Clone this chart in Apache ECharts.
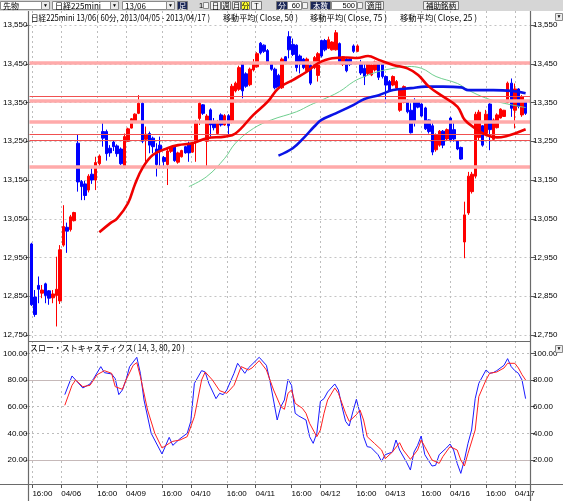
<!DOCTYPE html>
<html><head><meta charset="utf-8">
<script src="https://cdn.jsdelivr.net/npm/echarts/dist/echarts.min.js"></script>
<style>html,body{margin:0;padding:0;background:#fff}#c{width:563px;height:501px}</style>
</head><body><div id="c"></div>
<script>
// ---- data ----
const barCount = 140;
const categories = Array.from({length: barCount}, (_, i) => 'b' + i);
const tickIdx = [1, 9, 19, 27, 37, 45, 55, 63, 73, 81, 91, 99, 109, 117, 127, 135];
const tickText = ['16:00','04/06','16:00','04/09','16:00','04/10','16:00','04/11','16:00','04/12','16:00','04/13','16:00','04/16','16:00','04/17'];
// [open, close, low, high]
const candles = [
[12985,12828,12825,12988],[12848,12803,12797,12866],[12878,12868,12832,12901],[12858,12866,12845,12879],
[12882,12852,12832,12885],[12864,12845,12828,12866],[12846,12856,12832,12866],[12852,12868,12772,12952],
[12838,12970,12830,12982],[12982,13030,12978,13085],[13028,13018,12962,13040],[13022,13055,13017,13060],
[13045,13066,13043,13068],[13245,13145,13120,13268],[13146,13133,13098,13150],[13140,13110,13098,13148],
[13124,13160,13118,13165],[13165,13150,13140,13180],[13150,13195,13124,13210],[13192,13212,13185,13216],
[13275,13258,13236,13300],[13275,13218,13200,13280],[13232,13220,13210,13240],[13248,13236,13225,13253],
[13238,13218,13210,13242],[13230,13192,13189,13234],[13182,13262,13180,13270],[13250,13282,13249,13285],
[13284,13308,13283,13310],[13302,13320,13300,13322],[13322,13348,13320,13369],[13348,13250,13245,13352],
[13255,13268,13197,13288],[13270,13240,13219,13275],[13258,13236,13219,13262],[13230,13190,13159,13245],
[13240,13225,13180,13262],[13208,13198,13180,13212],[13190,13225,13137,13232],[13224,13234,13220,13237],
[13236,13200,13197,13238],[13196,13220,13192,13223],[13210,13226,13208,13228],[13236,13220,13218,13238],
[13244,13220,13197,13249],[13222,13244,13220,13249],[13250,13300,13197,13305],[13309,13348,13292,13354],
[13344,13322,13318,13346],[13250,13315,13184,13320],[13331,13292,13262,13335],[13300,13285,13278,13310],
[13270,13300,13266,13305],[13318,13292,13288,13322],[13292,13316,13290,13320],[13316,13290,13266,13320],
[13300,13392,13296,13398],[13380,13400,13376,13404],[13384,13440,13380,13445],[13452,13380,13361,13456],
[13424,13392,13388,13428],[13396,13436,13392,13440],[13434,13450,13430,13462],[13442,13476,13440,13480],
[13503,13478,13474,13506],[13498,13482,13478,13500],[13484,13452,13448,13488],[13450,13436,13432,13455],
[13436,13388,13384,13440],[13420,13390,13386,13424],[13388,13462,13385,13466],[13468,13456,13452,13470],
[13520,13486,13464,13534],[13500,13474,13470,13515],[13498,13440,13430,13500],[13470,13450,13425,13474],
[13462,13440,13436,13465],[13432,13462,13430,13466],[13446,13400,13395,13450],[13440,13466,13436,13470],
[13420,13476,13404,13480],[13510,13470,13466,13512],[13510,13486,13482,13514],[13490,13512,13488,13520],
[13486,13506,13484,13508],[13486,13530,13484,13537],[13502,13456,13452,13505],[13448,13468,13444,13470],
[13462,13432,13428,13466],[13462,13448,13444,13466],[13496,13482,13478,13500],[13482,13496,13480,13500],
[13452,13426,13421,13460],[13438,13417,13395,13451],[13425,13451,13421,13455],[13421,13447,13418,13450],
[13434,13455,13430,13458],[13451,13415,13408,13455],[13455,13417,13412,13458],[13417,13395,13348,13420],
[13404,13382,13378,13408],[13395,13417,13392,13420],[13387,13404,13384,13408],[13330,13384,13326,13387],
[13350,13391,13348,13394],[13356,13326,13322,13358],[13330,13272,13270,13348],[13352,13300,13288,13361],
[13354,13338,13335,13356],[13346,13315,13313,13348],[13336,13282,13279,13339],[13305,13275,13270,13306],
[13290,13222,13214,13300],[13228,13266,13223,13270],[13240,13276,13236,13279],[13276,13240,13232,13279],
[13256,13280,13253,13283],[13310,13252,13249,13313],[13280,13256,13249,13300],[13250,13230,13227,13253],
[13234,13204,13202,13236],[12990,13060,12948,13094],[13065,13160,13060,13171],[13120,13165,13115,13171],
[13160,13320,13154,13326],[13260,13325,13253,13331],[13290,13240,13236,13292],[13270,13320,13266,13331],
[13346,13280,13227,13348],[13255,13305,13253,13309],[13285,13318,13283,13322],[13310,13333,13309,13335],
[13314,13330,13313,13331],[13350,13400,13348,13404],[13400,13335,13313,13412],[13330,13385,13283,13399],
[13385,13340,13335,13387],[13318,13365,13313,13369],[13354,13322,13318,13356]
];
// moving averages read at bar indices: [barIndex, value]
const ma25 = [[19,13015],[22,13038],[24,13051],[27,13090],[29,13140],[31,13180],[34,13215],[38,13232],[41,13240],[45,13245],[49,13258],[54,13262],[57,13270],[62,13318],[66,13352],[69,13387],[73,13408],[77,13430],[80,13451],[84,13464],[88,13466],[91,13465],[94,13470],[97,13460],[101,13447],[105,13438],[108,13421],[111,13391],[115,13365],[119,13339],[121,13305],[124,13283],[127,13266],[130,13260],[133,13264],[135,13270],[138,13281]];
const ma50 = [[44,13133],[49,13159],[54,13206],[57,13245],[62,13283],[67,13305],[74,13326],[78,13344],[81,13356],[86,13378],[90,13404],[93,13417],[97,13430],[101,13438],[105,13443],[109,13438],[113,13417],[119,13399],[122,13382],[127,13361],[132,13348],[138,13337]];
const ma75 = [[69,13213],[73,13232],[76,13258],[79,13288],[81,13305],[85,13322],[90,13344],[93,13359],[97,13369],[101,13382],[106,13387],[110,13391],[115,13391],[120,13389],[122,13382],[129,13382],[134,13380],[138,13374]];
// stochastics [barIndex, value]
const stochK = [[10,69],[12,83],[13,80],[15,74],[17,77],[18,81],[20,90],[21,85.5],[23,84.5],[24,81],[25,69],[26,72.5],[27,80],[28,90],[30,97],[31,85],[32,65],[34,40],[37,24.5],[39,37],[40,31],[42,36],[44,40],[45,49],[46,77.5],[48,87],[49,86],[50,77.5],[52,66],[53,70],[54,69],[55,72.5],[57,85],[58,92.5],[60,85],[61,89],[64,97],[66,91],[67,79],[69,50],[70,60],[71,65],[72,80.5],[73,76],[74,55],[75,53],[77,50],[78,37.5],[79,32.5],[80,40],[81,64],[82,66],[83,71],[85,77],[86,72.5],[87,60],[88,49],[89,45.5],[90,56],[91,65.5],[92,55],[93,37.5],[94,30],[95,29.5],[97,24],[98,19],[99,24],[101,26],[102,35],[103,27.5],[105,18],[106,12.5],[107,26],[108,31],[109,38],[110,24],[112,15.5],[113,16],[114,24],[116,29],[117,32],[118,27.5],[119,17.5],[120,10],[121,20],[122,32.5],[123,42.5],[124,66],[125,77.5],[127,87.5],[128,85],[129,85.5],[130,87],[132,91],[133,96],[134,90],[135,87],[136,85],[137,80],[138,66]];
const stochD = [[10,61],[12,76],[13,80],[15,75],[17,76],[19,84],[21,87],[23,85],[24,75],[26,73],[27,80],[29,91],[30,93],[31,82.5],[33,57.5],[35,40],[37,29],[39,32.5],[40,34],[42,35],[44,37.5],[46,52.5],[48,80],[49,86],[51,80],[53,72],[55,70],[57,76],[59,90],[61,87.5],[62,89],[64,94.5],[66,87.5],[68,72.5],[70,60],[71,58],[72,70],[73,72.5],[74,62.5],[76,58.75],[77,55],[78,47.5],[80,37.5],[81,42.5],[82,55],[83,65],[85,74],[86,70],[88,55],[89,49],[91,54],[92,57.5],[93,50],[94,37.5],[96,32.5],[98,27.5],[99,21],[101,26],[103,33],[104,27.5],[106,20.5],[108,27.5],[109,35],[110,30],[112,20],[114,17.5],[115,22.5],[117,30],[119,27.5],[120,20],[121,15.5],[122,25],[124,42.5],[125,67.5],[127,80],[128,85],[130,86],[132,89],[133,92.5],[135,92.5],[136,89],[137,84],[138,80]];
const thickLevels = [13453, 13355, 13300, 13183];
const thinLevels = [13367, 13268, 13252];
const stochDashed = [100, 60, 40];
const stochSolid = [80, 20];
const titleTexts = ['日経225mini 13/06( 60分, 2013/04/05 - 2013/04/17 )', '移動平均( Close, 50 )', '移動平均( Close, 75 )', '移動平均( Close, 25 )'];
const stochTitle = 'スロー・ストキャスティクス( 14, 3, 80, 20 )';

// ---- layout ----
const CJK = '"Noto Sans CJK JP", sans-serif';
const NUM = '"Liberation Sans", "DejaVu Sans", sans-serif';
const tickSet = new Set(tickIdx);
const fmtComma = v => String(v).replace(/\B(?=(\d{3})+(?!\d))/g, ',');
const measureCtx = document.createElement('canvas').getContext('2d');
function textWidth(t, size, family) { measureCtx.font = size + 'px ' + family; return measureCtx.measureText(t).width; }

function rect(x, y, w, h, fill, stroke) {
  return {type: 'rect', shape: {x: x, y: y, width: w, height: h}, style: {fill: fill, stroke: stroke || null, lineWidth: 1}, silent: true, z: 10};
}
function txt(x, y, t, size, color, font, align) {
  return {type: 'text', x: x, y: y, style: {text: t, fontSize: size, fill: color || '#000', fontFamily: font || CJK, align: align || 'left', verticalAlign: 'middle'}, silent: true, z: 11};
}
function fitTxt(x, y, t, size, targetW) {
  const w = textWidth(t, size, CJK);
  const el = txt(x, y, t, size, '#000', CJK, 'left');
  el.scaleX = targetW / w;
  return el;
}
function hline(x1, x2, y, color, w) {
  return {type: 'line', shape: {x1: x1, y1: y, x2: x2, y2: y}, style: {stroke: color, lineWidth: w || 1}, silent: true, z: 10};
}
function vline(x, y1, y2, color, w) {
  return {type: 'line', shape: {x1: x, y1: y1, x2: x, y2: y2}, style: {stroke: color, lineWidth: w || 1}, silent: true, z: 10};
}

const graphics = [];
// toolbar
graphics.push(rect(0, 0, 563, 11, '#d6d6d6', null));
function combo(x, w, label) {
  graphics.push(rect(x + 0.5, 1.5, w - 9, 8, '#fff', '#8a8a8a'));
  graphics.push(rect(x + w - 8.5, 1.5, 8, 8, '#ececec', '#8a8a8a'));
  graphics.push(txt(x + w - 4.5, 6, '▼', 5, '#000', NUM, 'center'));
  graphics.push(txt(x + 3, 6, label, 8, '#000'));
}
combo(0, 50, '先物');
combo(52, 67, '日経225mini');
combo(122, 53, '13/06');
function btn(x, w, label, fill, color) {
  graphics.push(rect(x + 0.5, 1.5, w, 8, fill, '#7a7a7a'));
  graphics.push(txt(x + 0.5 + w / 2, 6, label, 7.5, color || '#000', CJK, 'center'));
}
btn(177, 10, '足', '#1c2858', '#fff');
graphics.push(txt(199, 6, '1', 7.5, '#000', NUM));
graphics.push(rect(203.5, 2.5, 5, 6, '#f4f4f4', '#888'));
btn(210, 10, '日', '#f2f2f2');
btn(221, 9, '週', '#f2f2f2');
btn(232, 8, '月', '#f2f2f2');
btn(241, 8, '分', '#ffff30');
btn(251, 10, 'T', '#f2f2f2');
btn(276, 11, '分', '#1c2858', '#fff');
graphics.push(rect(287.5, 1.5, 14, 8, '#fff', '#8a8a8a'));
graphics.push(txt(300, 6, '60', 7.5, '#000', NUM, 'right'));
graphics.push(rect(302.5, 2.5, 5, 6, '#f4f4f4', '#888'));
btn(310, 20, '本数', '#1c2858', '#fff');
graphics.push(rect(331.5, 1.5, 25, 8, '#fff', '#8a8a8a'));
graphics.push(txt(355, 6, '500', 7.5, '#000', NUM, 'right'));
graphics.push(rect(357.5, 2.5, 5, 6, '#f4f4f4', '#888'));
btn(365, 18, '適用', '#f2f2f2');
btn(423, 35, '補助銘柄', '#f2f2f2');
// titles (scaled horizontally to the narrow widths of the original)
graphics.push(fitTxt(31, 18, titleTexts[0], 8.5, 179));
graphics.push(fitTxt(223, 18, titleTexts[1], 8.5, 75));
graphics.push(fitTxt(310, 18, titleTexts[2], 8.5, 77));
graphics.push(fitTxt(400, 18, titleTexts[3], 8.5, 77));
graphics.push(fitTxt(30, 348, stochTitle, 8.5, 155));
// small scroll boxes at right
graphics.push(rect(555.5, 13.5, 7, 7, '#ececec', '#8a8a8a'));
graphics.push(txt(559, 17, '▼', 5, '#000', NUM, 'center'));
graphics.push(rect(555.5, 345.5, 7, 7, '#ececec', '#8a8a8a'));
graphics.push(txt(559, 349, '▼', 5, '#000', NUM, 'center'));
// frame
graphics.push(vline(28.5, 11, 501, '#6a6a6a', 1.2));
graphics.push(vline(530.5, 11, 501, '#6a6a6a', 1.2));
graphics.push(hline(0, 563, 484.5, '#6a6a6a', 1.2));
graphics.push(hline(28, 531, 341.5, '#6a6a6a', 1));

const axisLabelStyle = {fontSize: 8, color: '#000', fontFamily: NUM};

const option = {
  animation: false,
  backgroundColor: '#fff',
  grid: [
    {left: 27, width: 504, top: 25, height: 310},
    {left: 27, width: 504, top: 353.3, height: 133.4},
    {left: 27, width: 504, top: 353.3, height: 106.7},
    {left: 28.8, width: 500.4, top: 11, height: 473}
  ],
  xAxis: [
    {type: 'category', gridIndex: 0, data: categories, boundaryGap: true, show: false},
    {type: 'category', gridIndex: 1, data: categories, boundaryGap: true, show: false},
    {type: 'category', gridIndex: 2, data: categories, boundaryGap: true, show: false},
    {type: 'category', gridIndex: 3, data: categories, boundaryGap: false,
      axisLine: {show: false},
      axisTick: {show: true, length: 4, interval: (i) => tickSet.has(i), lineStyle: {color: '#555'}},
      axisLabel: {show: true, interval: (i) => tickSet.has(i), margin: 6, align: 'left',
        formatter: (v, i) => { const k = tickIdx.indexOf(i); return k >= 0 ? tickText[k] : ''; },
        ...axisLabelStyle},
      splitLine: {show: true, interval: (i) => tickSet.has(i), lineStyle: {color: '#bdbdbd', type: [2, 3], width: 1}}
    }
  ],
  yAxis: [
    {type: 'value', gridIndex: 0, min: 12750, max: 13550, interval: 100, position: 'left',
      axisLine: {show: false}, axisTick: {show: true, length: 4, lineStyle: {color: '#555'}},
      axisLabel: {margin: 2, formatter: fmtComma, ...axisLabelStyle},
      splitLine: {show: true, lineStyle: {color: '#c4c4c4', type: [2, 3]}}},
    {type: 'value', gridIndex: 0, min: 12750, max: 13550, interval: 100, position: 'right',
      axisLine: {show: false}, axisTick: {show: true, length: 4, lineStyle: {color: '#555'}},
      axisLabel: {margin: 2, formatter: fmtComma, ...axisLabelStyle},
      splitLine: {show: false}},
    {type: 'value', gridIndex: 1, min: 0, max: 100, show: false, splitLine: {show: false}},
    {type: 'value', gridIndex: 2, min: 20, max: 100, interval: 20, position: 'left',
      axisLine: {show: false}, axisTick: {show: true, length: 4, lineStyle: {color: '#555'}},
      axisLabel: {margin: 2, formatter: v => v.toFixed(2), ...axisLabelStyle}, splitLine: {show: false}},
    {type: 'value', gridIndex: 2, min: 20, max: 100, interval: 20, position: 'right',
      axisLine: {show: false}, axisTick: {show: true, length: 4, lineStyle: {color: '#555'}},
      axisLabel: {margin: 2, formatter: v => v.toFixed(2), ...axisLabelStyle}, splitLine: {show: false}},
    {type: 'value', gridIndex: 3, show: false, splitLine: {show: false}}
  ],
  series: [
    {type: 'line', xAxisIndex: 0, yAxisIndex: 0, data: [], z: 1, silent: true,
      markLine: {silent: true, symbol: 'none', label: {show: false}, animation: false,
        data: thickLevels.map(v => ({yAxis: v, lineStyle: {color: '#ffaaaa', width: 3.5, type: 'solid'}}))
          .concat(thinLevels.map(v => ({yAxis: v, lineStyle: {color: '#f05050', width: 1, type: 'solid'}})))}},
    {type: 'candlestick', xAxisIndex: 0, yAxisIndex: 0, data: candles, z: 3, barWidth: 3,
      itemStyle: {color: '#ff0000', color0: '#0000ff', borderColor: '#ff0000', borderColor0: '#0000ff', borderWidth: 1}},
    {type: 'line', xAxisIndex: 0, yAxisIndex: 0, data: ma50, z: 4, symbol: 'none', smooth: 0.4,
      lineStyle: {color: '#6fcf8f', width: 1}},
    {type: 'line', xAxisIndex: 0, yAxisIndex: 0, data: ma75, z: 5, symbol: 'none', smooth: 0.4,
      lineStyle: {color: '#0a14e6', width: 2.6}},
    {type: 'line', xAxisIndex: 0, yAxisIndex: 0, data: ma25, z: 6, symbol: 'none', smooth: 0.4,
      lineStyle: {color: '#f00000', width: 2.6}},
    {type: 'line', xAxisIndex: 1, yAxisIndex: 2, data: [], z: 1, silent: true,
      markLine: {silent: true, symbol: 'none', label: {show: false}, animation: false,
        data: stochDashed.map(v => ({yAxis: v, lineStyle: {color: '#bdbdbd', width: 1, type: [2, 3]}}))
          .concat(stochSolid.map(v => ({yAxis: v, lineStyle: {color: '#c6b9b9', width: 1, type: 'solid'}})))}},
    {type: 'line', xAxisIndex: 1, yAxisIndex: 2, data: stochK, z: 4, symbol: 'none',
      lineStyle: {color: '#1a1aff', width: 1}},
    {type: 'line', xAxisIndex: 1, yAxisIndex: 2, data: stochD, z: 5, symbol: 'none',
      lineStyle: {color: '#ff2020', width: 1}}
  ],
  graphic: graphics
};
const chart = echarts.init(document.getElementById('c'), null, {renderer: 'canvas'});
chart.setOption(option);
</script>
</body></html>
